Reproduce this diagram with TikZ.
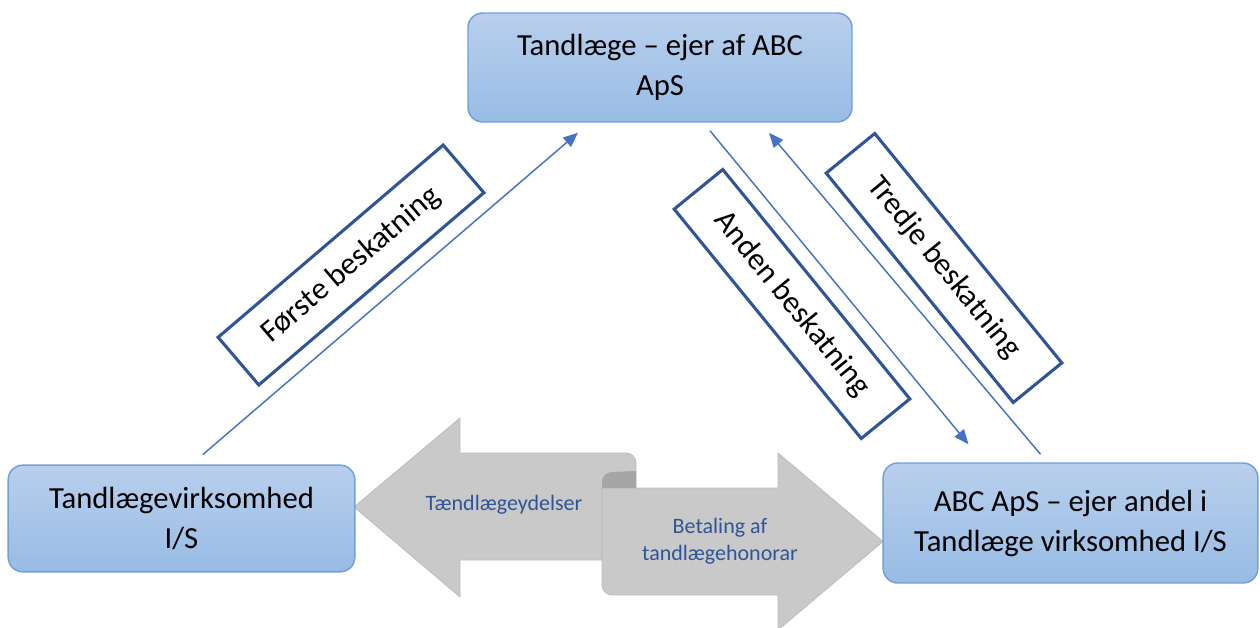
\documentclass[tikz,border=0pt]{standalone}
\usepackage{fontspec}
\setmainfont{Carlito}
\usetikzlibrary{arrows.meta,calc}

\definecolor{boxtop}{RGB}{184,207,236}
\definecolor{boxbot}{RGB}{152,188,229}
\definecolor{boxline}{RGB}{112,160,218}
\definecolor{tagline}{RGB}{47,85,151}
\definecolor{flowblue}{RGB}{68,114,196}
\definecolor{garrowfill}{RGB}{201,201,201}
\definecolor{garrowline}{RGB}{188,188,188}
\definecolor{gcurl}{RGB}{166,166,166}

\tikzset{
  bluebox/.style={draw=boxline, line width=1.1pt, rounded corners=11pt,
    top color=boxtop, bottom color=boxbot, align=center, inner sep=0pt,
    font=\fontsize{23}{30}\selectfont},
  tagbox/.style={draw=tagline, line width=2.3pt, fill=white, inner sep=0pt,
    minimum width=222pt, minimum height=47pt, font=\fontsize{23.5}{28}\selectfont},
  flowline/.style={draw=flowblue, line width=1.1pt, -{Triangle[length=11pt,width=9pt]}},
  garrow/.style={fill=garrowfill, draw=garrowline, line width=0.6pt},
  grtext/.style={text=tagline, align=center, inner sep=0pt,
    font=\fontsize{16.5}{20}\selectfont}
}

\begin{document}
\begin{tikzpicture}[x=0.75pt,y=0.75pt,yscale=-1,xscale=1]
\useasboundingbox (0,0) rectangle (1260,628);

%Shape: Left Right Arrow (scroll)
\begin{scope}
\clip (0,0) rectangle (1260,628);
\path[garrow] (354,507) -- (460,418) -- (460,453) -- (626,453) arc[start angle=270, end angle=360, radius=10] -- (636,488) -- (602,488) -- (602,560) -- (460,560) -- (460,597) -- cycle;
\path[garrow] (602,488) -- (602,585) arc[start angle=180, end angle=90, radius=10] -- (778,595) -- (778,630) -- (883,541.5) -- (778,453) -- (778,488) -- cycle;
\fill[gcurl] (602,488) -- (602,482) arc[start angle=180, end angle=270, radius=10] -- (636,471) -- (636,488) -- cycle;
\end{scope}

% Text Node
\node[grtext] (ydelser) at (504,505) {Tændlægeydelser};
% Text Node
\node[grtext] (honorar) at (720,541) {Betaling af\\tandlægehonorar};

%Rounded Rect
\node[bluebox, minimum width=288pt, minimum height=81.75pt] (ejer) at (660,67.5) {Tandlæge – ejer af ABC\\ApS};
%Rounded Rect
\node[bluebox, minimum width=260pt, minimum height=80pt] (virk) at (181.5,518.5) {Tandlægevirksomhed\\I/S};
%Rounded Rect
\node[bluebox, minimum width=281pt, minimum height=90pt] (aps) at (1070.5,523) {ABC ApS – ejer andel i\\Tandlæge virksomhed I/S};

%Straight Lines
\draw[flowline] ($(virk.north)+(21.5,-10)$) -- ($(ejer.south)+(-82,10)$);
\draw[flowline] ($(ejer.south)+(50,8)$) -- ($(aps.north)+(-102,-18)$);
\draw[flowline] ($(aps.north)+(-30,-8)$) -- ($(ejer.south)+(109,10)$);

% Text Node
\node[tagbox, rotate=40.5] (forste) at (351,265) {Første beskatning};
% Text Node
\node[tagbox, rotate=-50.8] (anden) at (792,304) {Anden beskatning};
% Text Node
\node[tagbox, rotate=-50.8] (tredje) at (944,268) {Tredje beskatning};
\end{tikzpicture}
\end{document}
